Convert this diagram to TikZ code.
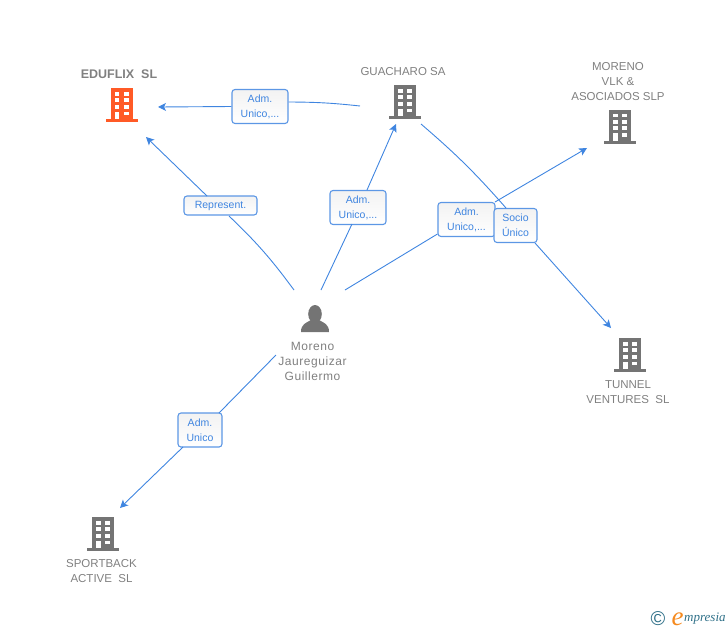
\documentclass[tikz,border=0pt]{standalone}
\usepackage{fontspec}
\setmainfont{Liberation Sans}
\newfontfamily\logofont{Liberation Serif}
\usetikzlibrary{arrows.meta}
\definecolor{linkblue}{HTML}{3F85E0}
\definecolor{labelgray}{HTML}{808080}
\definecolor{icongray}{HTML}{747474}
\definecolor{iconorange}{HTML}{FF5A26}
\definecolor{logoteal}{HTML}{2F7088}
\definecolor{logoorange}{HTML}{F58A1F}
\tikzset{
	link/.style={draw=linkblue, line width=0.9pt},
	linkarrow/.style={link, -{Stealth[length=8pt, width=8pt, inset=2pt]}},
	rolebox/.style={draw=linkblue!85, line width=1.1pt, rounded corners=3pt, top color=black!5, bottom color=white, text=linkblue, align=center, inner sep=0pt, font=\fontsize{10.5}{15}\selectfont},
	company/.style={text=labelgray, align=center, inner sep=0pt, font=\fontsize{11.5}{15}\selectfont},
	pics/buildingicon/.style={code={
		\fill[#1] (-11,-31) rectangle (11,0);
		\fill[#1] (-16,0) rectangle (16,3);
		\foreach \yw in {-27,-20.7,-14.3}{
			\fill[white] (-7,\yw) rectangle (-2.2,\yw+3.8);
			\fill[white] (2.2,\yw) rectangle (7,\yw+3.8);
		}
		\fill[white] (-7,-7.5) rectangle (-2.2,0);
		\fill[white] (2.2,-7.5) rectangle (7,-3.7);
	}}
}
\begin{document}
\begin{tikzpicture}[x=1pt, y=-1pt]
	\useasboundingbox (0,0) rectangle (728,630);

	% companies
	\node[company, font=\fontsize{12.5}{15}\selectfont] (eduflixname) at(119,74.5){\textbf{EDUFLIX\ \ SL}};
	\pic at(121.5,119){buildingicon=iconorange};
	\node[company] (guacharoname) at(403,72){GUACHARO SA};
	\pic at(405,116){buildingicon=icongray};
	\node[company] (morenoname) at(618,82){MORENO\\VLK \&\\ASOCIADOS SLP};
	\pic at(620,140.5){buildingicon=icongray};
	\node[company] (tunnelname) at(628,392.5){TUNNEL\\VENTURES\ \ SL};
	\pic at(630,369){buildingicon=icongray};
	\node[company] (sportbackname) at(101.5,571.5){SPORTBACK\\ACTIVE\ \ SL};
	\pic at(103,548){buildingicon=icongray};

	% person
	\fill[icongray] (315,314) ellipse (6.8 and 9);
	\fill[icongray] (301,332) .. controls (301,324) and (306,323) .. (311,320) -- (319,320) .. controls (324,323) and (329,324) .. (329,332) -- cycle;
	\node[company, font=\fontsize{12}{15}\selectfont\addfontfeatures{LetterSpace=4.5}] (personname) at(312.5,361){Moreno\\Jaureguizar\\Guillermo};

	% labels on the links
	\node[rolebox, minimum width=56pt, minimum height=34pt] (role1) at(260,106.5){Adm.\\Unico,...};
	\node[rolebox, minimum width=73pt, minimum height=19pt] (role2) at(220.5,205.5){\raisebox{-1.5pt}{Represent.}};
	\node[rolebox, minimum width=56pt, minimum height=34pt] (role3) at(358,207.5){Adm.\\Unico,...};
	\node[rolebox, minimum width=57pt, minimum height=34pt] (role4) at(466.5,219.5){Adm.\\Unico,...};
	\node[rolebox, minimum width=43pt, minimum height=34pt] (role5) at(515.5,225.5){Socio\\Único};
	\node[rolebox, minimum width=44pt, minimum height=34pt] (role6) at(200,430){Adm.\\Unico};

	% free ends
	\coordinate (guacharoleft) at(360,106);
	\coordinate (eduflixright) at(158,107);
	\coordinate (eduflixbelow) at(146,137);
	\coordinate (guacharobelow) at(396,124);
	\coordinate (guacharoright) at(421,124);
	\coordinate (morenoleft) at(587,148);
	\coordinate (tunneltop) at(611,328);
	\coordinate (sportbacktop) at(120,508);
	\coordinate (personnw) at(294,290);
	\coordinate (personn) at(321,290);
	\coordinate (personne) at(345,290);
	\coordinate (personsw) at(276,355);

	% links
	\draw[link] (guacharoleft) to[bend right=3] (role1.east |- 0,102);
	\draw[linkarrow] (role1.west) to (eduflixright);
	\draw[link] (personnw) to[bend right=5] (229,216);
	\draw[linkarrow] (207,196) to (eduflixbelow);
	\draw[link] (personn) to (352,224);
	\draw[linkarrow] (367,190) to (guacharobelow);
	\draw[link] (personne) to (role4.west |- 0,234);
	\draw[linkarrow] (495,202) to (morenoleft);
	\draw[link] (guacharoright) to[bend left=4] (506,208);
	\draw[linkarrow] (535,243) to (tunneltop);
	\draw[link] (personsw) to (219,413);
	\draw[linkarrow] (183,447) to (sportbacktop);

	% logo
	\node[text=logoteal, inner sep=0pt, font=\fontsize{20}{20}\selectfont] (logomark) at(658,618.5){©};
	\node[text=logoorange, inner sep=0pt, font=\logofont\itshape\fontsize{27}{27}\selectfont] (logoe) at(677.5,619){e};
	\node[text=logoteal, inner sep=0pt, anchor=west, font=\logofont\itshape\fontsize{13}{14}\selectfont] (logoname) at(684,619){mpresia};
\end{tikzpicture}
\end{document}
